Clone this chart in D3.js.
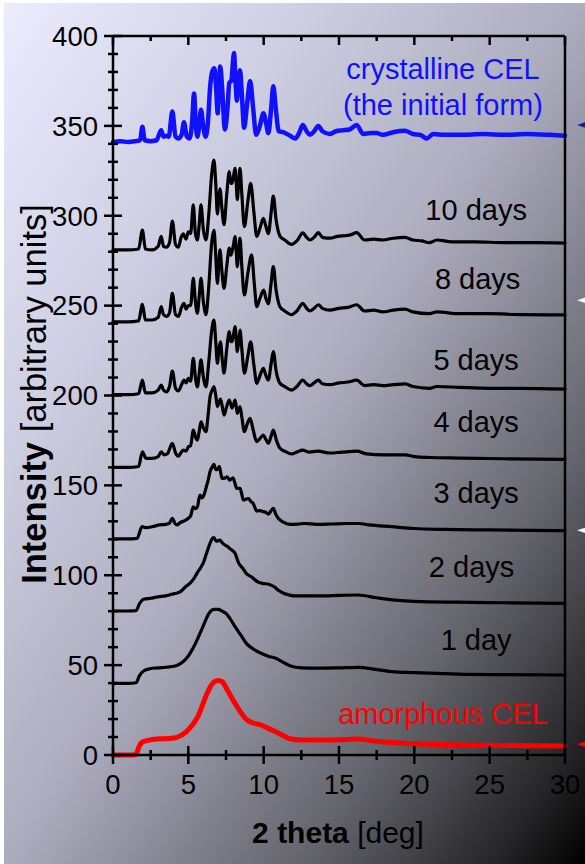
<!DOCTYPE html>
<html><head><meta charset="utf-8">
<script src="https://cdn.jsdelivr.net/npm/d3@7"></script>
<style>html,body{margin:0;padding:0;background:#fff;}svg{display:block;}text{font-family:"Liberation Sans",Arial,sans-serif;}</style>
</head><body>
<svg id="chart" width="585" height="864"></svg>
<script>
// ---- data ----
const xTicks = [0,5,10,15,20,25,30];
const yTicks = [0,50,100,150,200,250,300,350,400];
const seriesNames = ["crystalline CEL","10 days","8 days","5 days","4 days","3 days","2 days","1 day","amorphous CEL"];

const crystalline = [[0,341],[0.5,341.5],[1,341],[1.5,341.5],[1.8,342],[1.95,349.5],[2.1,342],[2.5,341.5],[2.9,342],[3.05,345],[3.2,347.5],[3.35,344],[3.55,344.5],[3.7,344],[3.94,358],[4.15,344],[4.34,343],[4.55,345],[4.71,352],[4.9,344],[5.08,343],[5.25,352],[5.38,368],[5.5,350],[5.6,344],[5.72,350],[5.84,359],[6.0,349],[6.15,344],[6.3,352],[6.45,372],[6.58,380],[6.73,382],[6.85,370],[6.95,357],[7.03,370],[7.12,383],[7.25,370],[7.43,348],[7.6,360],[7.72,374],[7.85,375],[8.03,390.5],[8.15,372],[8.22,364],[8.3,372],[8.43,381],[8.55,368],[8.7,349],[8.9,362],[9.1,375],[9.3,360],[9.5,345],[9.75,350],[9.98,357],[10.15,352],[10.31,346],[10.5,360],[10.64,372],[10.8,360],[11.0,347],[11.3,346.5],[11.75,344.5],[12.1,343],[12.35,346],[12.6,350.5],[12.85,347],[13.07,345],[13.35,347],[13.63,350],[13.9,347],[14.4,345.5],[14.8,347],[15.2,347.5],[15.7,348],[16.17,350.5],[16.61,345.5],[17.1,346],[17.5,346],[17.9,345],[18.6,346.5],[19.38,347.3],[19.9,345.5],[20.4,345],[20.82,343],[21.26,345.5],[22,345],[23,345],[24.6,345.5],[26,345],[27.5,345.5],[29,345],[30,344.5]];

const days10 = [[0,281],[1.0,281],[1.7,281.5],[1.95,292],[2.15,281.5],[2.6,281],[3.0,283],[3.2,288.5],[3.35,283],[3.54,282.5],[3.75,285],[3.94,297],[4.15,284],[4.34,282.5],[4.52,288],[4.67,290],[4.85,287],[5.0,291],[5.15,290],[5.33,306],[5.47,290],[5.6,286.5],[5.72,295],[5.84,306],[6.0,292],[6.17,286.5],[6.35,300],[6.55,323],[6.7,331],[6.82,318],[6.93,301],[7.02,310],[7.1,315],[7.22,305],[7.37,295],[7.55,312],[7.72,324.5],[7.82,318],[7.9,318],[8.0,322],[8.1,326.4],[8.18,318],[8.25,309],[8.34,318],[8.43,326.4],[8.55,312],[8.72,294],[8.95,308],[9.14,318],[9.35,302],[9.54,288.5],[9.75,293],[9.98,298.6],[10.15,294],[10.31,290],[10.5,302],[10.64,311],[10.82,298],[11.08,288.7],[11.4,286.5],[11.86,284.1],[12.2,286],[12.6,290.5],[12.85,288],[13.07,286.5],[13.35,288],[13.63,290.6],[13.9,288],[14.4,287.5],[14.9,288.5],[15.5,289],[15.8,289.5],[16.17,290.6],[16.7,286.5],[17.3,287],[17.9,286.5],[18.6,287.5],[19.38,288],[19.9,286.5],[20.5,286],[21.0,285],[21.5,286.5],[22.5,285.5],[24,285.5],[26,285],[28,285],[30,284.8]];

const days8 = [[0,241],[1.0,241],[1.7,241.5],[1.95,250.7],[2.15,242],[2.6,242],[3.0,243.5],[3.2,249.4],[3.35,245],[3.54,244],[3.75,246],[3.94,256.8],[4.15,245],[4.34,244],[4.55,249],[4.71,251.3],[4.85,248],[5.0,250],[5.15,250],[5.33,265.2],[5.47,252],[5.6,245.7],[5.72,255],[5.84,265.2],[6.0,252],[6.17,245],[6.35,260],[6.55,285],[6.7,292],[6.82,278],[6.93,262.4],[7.02,272],[7.1,281],[7.22,270],[7.37,259.6],[7.55,272],[7.72,282],[7.82,278],[7.9,280],[8.0,284],[8.1,288.4],[8.18,280],[8.25,271.7],[8.34,280],[8.43,287.5],[8.55,272],[8.72,255.9],[8.95,268],[9.2,278.2],[9.38,262],[9.54,249.4],[9.75,254],[10.0,258.7],[10.15,254],[10.31,251],[10.5,263],[10.64,271.7],[10.82,259],[11.08,249.4],[11.4,247],[11.86,245],[12.2,247],[12.6,251.3],[12.85,248.5],[13.07,247],[13.35,248.5],[13.63,250.5],[13.9,248.5],[14.4,247.5],[15.0,248.5],[15.6,249],[16.17,250.5],[16.7,247],[17.3,247.5],[17.9,246.5],[18.6,247.5],[19.38,248],[19.9,246.5],[21.0,245.5],[21.5,246.5],[23,245.5],[25,245.5],[27,245],[30,244.8]];

const days5 = [[0,200.5],[1.0,200.5],[1.7,201],[1.95,208.6],[2.15,201.5],[2.6,201.5],[3.0,203],[3.2,205.8],[3.35,203],[3.54,202],[3.75,205],[3.94,213.6],[4.15,204],[4.34,202.5],[4.55,206],[4.71,208.6],[4.85,207],[5.0,209.5],[5.15,208],[5.33,220.7],[5.47,210],[5.6,204.8],[5.72,212],[5.84,219.8],[6.0,210],[6.17,204.8],[6.35,218],[6.55,236],[6.7,242],[6.82,230],[6.93,217.9],[7.02,225],[7.13,229.9],[7.25,220],[7.37,212.4],[7.55,226],[7.72,235.5],[7.82,230],[7.9,229.9],[8.0,234],[8.1,238.3],[8.18,231],[8.25,224.4],[8.34,230],[8.43,236.4],[8.55,226],[8.72,212.4],[8.95,222],[9.14,229.9],[9.35,217],[9.54,206.8],[9.75,211],[9.98,215.1],[10.15,211],[10.31,208.6],[10.5,218],[10.64,224.4],[10.82,214],[11.08,206.8],[11.4,205],[11.86,203],[12.2,205],[12.6,208.6],[12.85,206.5],[13.07,205.5],[13.35,207],[13.63,208.5],[13.9,206.5],[14.4,206],[15.0,207],[15.6,207.5],[16.17,208.5],[16.7,205.5],[17.3,206],[17.9,205.5],[18.6,206],[19.38,206.5],[19.9,205],[21,204],[21.5,205],[23,204.5],[25,204],[27,204],[30,203.6]];

const days4 = [[0,160],[1.0,160],[1.7,160.5],[1.95,168.7],[2.2,165],[2.6,165],[3.0,166],[3.2,168.7],[3.4,167],[3.6,167.5],[3.94,173.4],[4.15,168],[4.34,166.3],[4.5,168],[4.67,169.6],[4.85,169],[5.0,171.5],[5.15,172],[5.33,180.8],[5.47,177],[5.6,175.2],[5.72,180],[5.84,185.4],[6.0,182],[6.17,179.9],[6.3,188],[6.44,199.3],[6.58,203],[6.7,204.9],[6.82,200],[6.93,193.8],[7.03,196],[7.13,198],[7.25,194],[7.37,189.1],[7.55,194],[7.72,197.5],[7.82,195],[7.9,193],[8.0,195],[8.1,197.5],[8.18,194],[8.25,190],[8.34,192],[8.43,193.8],[8.55,188],[8.72,179.9],[8.9,184],[9.1,187.3],[9.3,181],[9.54,174.3],[9.75,176],[9.98,178],[10.15,175.5],[10.31,173.4],[10.5,177.5],[10.64,180.8],[10.85,175],[11.08,170.6],[11.4,169],[11.86,167.5],[12.2,168.5],[12.6,169.6],[13.0,168.5],[13.6,169],[14.4,168],[15.2,168.5],[16.2,169],[16.8,167.5],[18,167],[19.4,167],[20,166],[21,165.5],[23,165.2],[26,164.8],[30,164.5]];

const days3 = [[0,120.2],[1.0,120.2],[1.6,120.5],[1.93,127],[2.2,126.5],[2.6,127],[3.1,128],[3.5,128.3],[3.75,129],[3.94,131.7],[4.1,129],[4.23,128],[4.5,129.5],[4.8,130.5],[5.0,131.7],[5.15,133],[5.33,138.1],[5.45,137],[5.6,138],[5.77,144.6],[5.9,143],[6.0,144],[6.2,149.3],[6.32,153],[6.44,157.6],[6.57,160],[6.7,161.7],[6.8,159],[6.9,158.8],[7.06,160.4],[7.15,157],[7.24,153.9],[7.4,154],[7.57,154.8],[7.75,152.9],[7.96,154.2],[8.1,151],[8.21,148.3],[8.43,148.3],[8.55,145],[8.65,141.9],[8.99,142.7],[9.15,141],[9.3,140],[9.45,137],[9.54,135.7],[9.75,136],[9.98,135.4],[10.15,135],[10.31,134],[10.5,136],[10.64,137.2],[10.8,134],[10.97,131.7],[11.3,129.5],[11.75,128.3],[12.3,128.5],[12.75,128.8],[13.5,128.3],[14.5,128.5],[15.5,128.8],[16.3,128.8],[17,128],[18.5,127],[20,126],[22,125.5],[25,125.2],[30,124.8]];

const days2 = [[0,80.1],[1.0,80.1],[1.53,80.3],[1.75,84],[2.03,86.6],[2.5,87.2],[3.0,88],[3.5,88.5],[3.9,89.4],[4.2,90],[4.5,91],[4.8,93.5],[5.1,95.5],[5.38,98.3],[5.6,101.5],[5.8,104],[6.0,107],[6.2,112],[6.44,117.8],[6.6,120.5],[6.7,120.9],[6.85,119],[7.1,119.5],[7.25,118],[7.4,117],[7.6,116],[7.8,114.5],[8.1,112.2],[8.35,106.6],[8.6,104],[8.85,101],[9.2,99],[9.59,96.4],[9.9,95.5],[10.33,95],[10.7,93.6],[11.0,91.5],[11.32,90],[11.7,89],[12.07,88.5],[13,88.5],[14,88.5],[15,88.8],[16.27,89],[17.5,87.5],[18.75,86.2],[20,85.5],[22.9,85],[26,84.7],[30,84.4]];

const day1 = [[0,39.9],[1.0,39.9],[1.53,40.2],[1.75,44],[2.03,46.7],[2.46,48],[3.0,48.5],[3.5,48.8],[4.14,49.5],[4.5,51],[4.88,53.8],[5.25,58.5],[5.63,64.9],[6.0,72],[6.37,78.8],[6.7,81],[6.99,81],[7.25,80],[7.5,78.8],[7.8,75.5],[8.1,71.4],[8.5,66.5],[8.85,62.1],[9.3,59],[9.83,56.6],[10.3,55],[10.8,53.8],[11.3,51.5],[11.8,49.5],[12.5,48.5],[13.55,48.3],[15,48.5],[16.3,48.8],[17.3,47.8],[18.5,46.4],[20,45.8],[22.9,45],[26,44.7],[30,44.5]];

const amorphous = [[0,0],[1.0,0],[1.53,0.3],[1.7,4],[1.9,6.9],[2.4,8.3],[2.9,8.9],[3.5,9.1],[4.14,9.6],[4.5,10.8],[4.88,13],[5.25,16.5],[5.63,21.3],[5.95,28],[6.25,34.3],[6.5,38.5],[6.74,40.8],[7.0,41.5],[7.24,40.8],[7.6,36],[8.1,28.7],[8.5,23.5],[8.85,19.8],[9.3,17.8],[9.83,16.7],[10.3,14.8],[10.8,13],[11.3,10.8],[11.8,8.9],[12.5,8.4],[13.55,8.3],[15,8.5],[16.3,8.9],[17.3,7.8],[18.5,6.9],[20,6.2],[22.9,5.6],[26,5.3],[30,5.0]];

// ---- drawing ----
const W = 585, H = 864;
const svg = d3.select("#chart");
const defs = svg.append("defs");
const grad = defs.append("linearGradient").attr("id","bg")
  .attr("x1","0").attr("y1","0").attr("x2","1").attr("y2","1");
[[0,"#ececff"],[0.25,"#d0d0e4"],[0.5,"#acacbe"],[0.75,"#66666f"],[0.92,"#262628"],[1,"#000000"]]
  .forEach(s => grad.append("stop").attr("offset", s[0]).attr("stop-color", s[1]));
svg.append("rect").attr("width",W).attr("height",H).attr("fill","#ffffff");
svg.append("rect").attr("x",4).attr("y",3).attr("width",W-4).attr("height",H-3).attr("fill","url(#bg)");

const x = d3.scaleLinear().domain([0,30]).range([113,565]);
const y = d3.scaleLinear().domain([0,400]).range([755,36]);

const line = d3.line().x(d=>x(d[0])).y(d=>y(d[1])).curve(d3.curveMonotoneX);

const series = [
  {name: seriesNames[0], data: crystalline, color:"#1010ff", w:4.5},
  {name: seriesNames[1], data: days10, color:"#000", w:3.2},
  {name: seriesNames[2], data: days8, color:"#000", w:3.2},
  {name: seriesNames[3], data: days5, color:"#000", w:3.2},
  {name: seriesNames[4], data: days4, color:"#000", w:3.2},
  {name: seriesNames[5], data: days3, color:"#000", w:3.2},
  {name: seriesNames[6], data: days2, color:"#000", w:3.2},
  {name: seriesNames[7], data: day1, color:"#000", w:3.2},
  {name: seriesNames[8], data: amorphous, color:"#ff0000", w:5}
];

svg.append("g").selectAll("path").data(series).join("path")
  .attr("d", d=>line(d.data)).attr("fill","none")
  .attr("stroke", d=>d.color).attr("stroke-width", d=>d.w)
  .attr("stroke-linejoin","round").attr("stroke-linecap","round");

// axes
const minorX = d3.range(2.5, 30, 5);
const minorY = d3.range(0, 401, 10).filter(v => v % 50 !== 0);
const ax = svg.append("g").attr("stroke","#000").attr("stroke-width",2.5);
ax.append("line").attr("x1",x(0)).attr("x2",x(30)).attr("y1",y(0)).attr("y2",y(0));
ax.append("line").attr("x1",x(0)).attr("x2",x(30)).attr("y1",y(400)).attr("y2",y(400));
ax.append("line").attr("x1",x(0)).attr("x2",x(0)).attr("y1",y(0)).attr("y2",y(400));
ax.append("line").attr("x1",x(30)).attr("x2",x(30)).attr("y1",y(0)).attr("y2",y(400));
// bottom ticks
ax.selectAll(".bx").data(xTicks).join("line").attr("x1",d=>x(d)).attr("x2",d=>x(d)).attr("y1",y(0)-9).attr("y2",y(0)+9);
ax.selectAll(".bmx").data(minorX).join("line").attr("class","bmx").attr("x1",d=>x(d)).attr("x2",d=>x(d)).attr("y1",y(0)-5).attr("y2",y(0)+5);
// top ticks
ax.selectAll(".tx").data(xTicks).join("line").attr("class","tx").attr("x1",d=>x(d)).attr("x2",d=>x(d)).attr("y1",y(400)).attr("y2",y(400)+9);
ax.selectAll(".tmx").data(minorX).join("line").attr("class","tmx").attr("x1",d=>x(d)).attr("x2",d=>x(d)).attr("y1",y(400)).attr("y2",y(400)+5);
// left ticks
ax.selectAll(".ly").data(yTicks).join("line").attr("class","ly").attr("x1",x(0)-9).attr("x2",x(0)+9).attr("y1",d=>y(d)).attr("y2",d=>y(d));
ax.selectAll(".lmy").data(minorY).join("line").attr("class","lmy").attr("x1",x(0)-5).attr("x2",x(0)+5).attr("y1",d=>y(d)).attr("y2",d=>y(d));

// tick labels
svg.append("g").selectAll("text").data(xTicks).join("text")
  .attr("x",d=>x(d)).attr("y",794).attr("text-anchor","middle")
  .attr("font-size",27.5).attr("fill","#000").text(d=>d);
svg.append("g").selectAll("text").data(yTicks).join("text")
  .attr("x",98).attr("y",d=>y(d)+9.8).attr("text-anchor","end")
  .attr("font-size",27.5).attr("fill","#000").text(d=>d);

// axis titles
const xt = svg.append("text").attr("x",338).attr("y",843).attr("text-anchor","middle").attr("font-size",30).attr("fill","#000");
xt.append("tspan").attr("font-weight","bold").text("2 theta");
xt.append("tspan").text(" [deg]");
const yt = svg.append("text").attr("transform","translate(46,394) rotate(-90)").attr("text-anchor","middle").attr("font-size",34.5).attr("fill","#000");
yt.append("tspan").attr("font-weight","bold").text("Intensity");
yt.append("tspan").text(" [arbitrary units]");

// series labels
const labels = [
  {t: seriesNames[1], x: 24.1, v: 297.6, c:"#000"},
  {t: seriesNames[2], x: 24.2, v: 259.2, c:"#000"},
  {t: seriesNames[3], x: 24.1, v: 214, c:"#000"},
  {t: seriesNames[4], x: 24.1, v: 179.7, c:"#000"},
  {t: seriesNames[5], x: 24.1, v: 140, c:"#000"},
  {t: seriesNames[6], x: 23.8, v: 99.3, c:"#000"},
  {t: seriesNames[7], x: 24.1, v: 58.4, c:"#000"},
  {t: seriesNames[8], x: 21.9, v: 17.2, c:"#ff0000"},
  {t: seriesNames[0], x: 21.9, v: 376, c:"#1010ff"},
  {t: "(the initial form)", x: 21.9, v: 356, c:"#1010ff"}
];
svg.append("g").selectAll("text").data(labels).join("text")
  .attr("x",d=>x(d.x)).attr("y",d=>y(d.v)).attr("text-anchor","middle")
  .attr("font-size",29).attr("fill",d=>d.c).text(d=>d.t);

// cut-off arrow heads at right edge
const arrows = [{v:350.5,c:"#1a1a8a"},{v:253,c:"#f4f4f4"},{v:125,c:"#f4f4f4"},{v:6,c:"#ff0000"}];
svg.append("g").selectAll("path").data(arrows).join("path")
  .attr("d", d => { const yy = y(d.v); return `M577,${yy} L592,${yy-5} L592,${yy+5} Z`; })
  .attr("fill", d=>d.c);
</script>
</body></html>
